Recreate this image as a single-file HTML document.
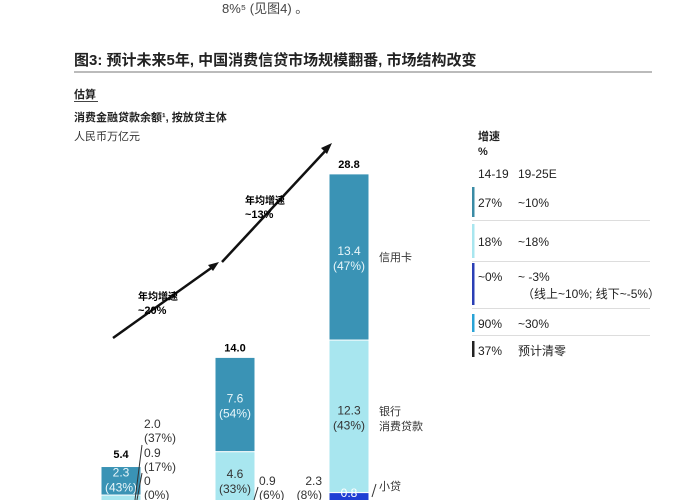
<!DOCTYPE html>
<html><head><meta charset="utf-8"><style>
body{margin:0;background:#fff;width:700px;height:500px;overflow:hidden;font-family:"Liberation Sans","Noto Sans CJK SC",sans-serif}
svg{display:block}
</style></head><body>
<svg id="chart" width="700" height="500">
<text x="222" y="13" font-size="13" fill="#444">8%⁵ (见图4) 。</text>
<text x="74" y="65" font-size="15" font-weight="bold" fill="#222">图3: 预计未来5年, 中国消费信贷市场规模翻番, 市场结构改变</text>
<rect x="74" y="71" width="578" height="2" fill="#bbb"/>
<text x="74" y="98" font-size="11" font-weight="bold" fill="#222">估算</text>
<rect x="74" y="101" width="24" height="1" fill="#444"/>
<text x="74" y="121" font-size="11" font-weight="bold" fill="#222">消费金融贷款余额¹, 按放贷主体</text>
<text x="74" y="140" font-size="11" fill="#333">人民币万亿元</text>
<g id="bars"></g>
<g id="arrows">
<line x1="113" y1="338" x2="214" y2="266" stroke="#111" stroke-width="2.5"/>
<polygon points="219,262 208,265 213,271" fill="#111"/>
<line x1="222" y1="262" x2="328" y2="148" stroke="#111" stroke-width="2.5"/>
<polygon points="332,143 321,148 327,154" fill="#111"/>
<text x="138" y="300" font-size="10" font-weight="bold">年均增速</text>
<text x="138" y="314" font-size="11" font-weight="bold">~20%</text>
<text x="245" y="204" font-size="10" font-weight="bold">年均增速</text>
<text x="245" y="218" font-size="11" font-weight="bold">~13%</text>
</g>
<g font-size="11" fill="#333">
<text x="379" y="261">信用卡</text>
<text x="379" y="415">银行</text>
<text x="379" y="430">消费贷款</text>
<text x="379" y="490">小贷</text>
<line x1="372" y1="497" x2="376" y2="484" stroke="#333"/>
<text x="144" y="428" font-size="12">2.0</text>
<text x="144" y="442" font-size="12">(37%)</text>
<text x="144" y="457" font-size="12">0.9</text>
<text x="144" y="471" font-size="12">(17%)</text>
<text x="144" y="485" font-size="12">0</text>
<text x="144" y="499" font-size="12">(0%)</text>
<line x1="142" y1="445" x2="135" y2="500" stroke="#333"/>
<line x1="142" y1="473" x2="137" y2="500" stroke="#333"/>
<text x="259" y="485" font-size="12">0.9</text>
<text x="259" y="499" font-size="12">(6%)</text>
<line x1="258" y1="487" x2="254" y2="500" stroke="#333"/>
<text x="322" y="485" font-size="12" text-anchor="end">2.3</text>
<text x="322" y="499" font-size="12" text-anchor="end">(8%)</text>
</g>
<g id="legend" font-size="12" fill="#222">
<text x="478" y="140" font-size="11" font-weight="bold">增速</text>
<text x="478" y="155" font-size="11" font-weight="bold">%</text>
<text x="478" y="178">14-19</text>
<text x="518" y="178">19-25E</text>
</g>
</svg>
<script>
const categories=["2014","2019","2025E"];
const creditCard=[2.3,7.6,13.4];
const bankLoan=[2.0,4.6,12.3];
const microLoan=[0,0.9,0.8];
const other=[0.9,0.9,2.3];
const totals=[5.4,14.0,28.8];
const creditPct=["43%","54%","47%"];
const bankPct=["37%","33%","43%"];
const ns="http://www.w3.org/2000/svg";
const base=531, k=12.4, x0=101, step=114, bw=40;
const y=v=>base-v*k;
const xb=i=>x0+i*step;
const g=document.getElementById('bars');
function mk(t,a,txt){const e=document.createElementNS(ns,t);for(const p in a)e.setAttribute(p,a[p]);if(txt!==undefined)e.textContent=txt;g.appendChild(e);return e;}
categories.forEach((c,i)=>{
 let acc=0;
 const segs=[[other[i],"#a8e3ee","other"],[microLoan[i],"#1f3fd4","microloan"],[bankLoan[i],"#a8e6ef","bank"],[creditCard[i],"#3a93b5","credit"]];
 segs.forEach(s=>{
  const r=mk('rect',{x:xb(i),y:y(acc+s[0]),width:bw,height:s[0]*k,fill:s[1],stroke:"#fff","stroke-width":1});
  
  
  acc+=s[0];
 });
 const top=y(totals[i]);
 const t=mk('text',{x:xb(i)+bw/2,y:top-6,"text-anchor":"middle","font-size":11,"font-weight":"bold"},totals[i].toFixed(1));
 
 
 const cTop=y(totals[i]), cBot=y(totals[i]-creditCard[i]);
 const cm=(cTop+cBot)/2;
 const l1=mk('text',{x:xb(i)+bw/2,y:cm-2,"text-anchor":"middle","font-size":12,fill:"#e8f6fa"},creditCard[i].toFixed(1));
 
 
 const l2=mk('text',{x:xb(i)+bw/2,y:cm+13,"text-anchor":"middle","font-size":12,fill:"#e8f6fa"},"("+creditPct[i]+")");
 
 
 if(i>0){
  const bm=(cBot+y(totals[i]-creditCard[i]-bankLoan[i]))/2;
  const b1=mk('text',{x:xb(i)+bw/2,y:bm-2,"text-anchor":"middle","font-size":12,fill:"#333"},bankLoan[i].toFixed(1));
  
  
  const b2=mk('text',{x:xb(i)+bw/2,y:bm+13,"text-anchor":"middle","font-size":12,fill:"#333"},"("+bankPct[i]+")");
  
  
 }
});
const m=mk('text',{x:xb(2)+bw/2,y:497,"text-anchor":"middle","font-size":12,fill:"#fff"},microLoan[2].toFixed(1));


const legRates1=["27%","18%","~0%","90%","37%"];
const legRates2=["~10%","~18%","~ -3%","~30%","预计清零"];
const legColors=["#3a8ba5","#a8e6ef","#2a3fb5","#29a3d6","#222"];
const lg=document.getElementById('legend');
const rows=[[187,217,203],[224,258,242],[263,305,277],[314,332,324],[341,357,351]];
legRates1.forEach((r,i)=>{
 const [t,b,ty]=rows[i];
 const bar=document.createElementNS(ns,'rect');
 bar.setAttribute('x',472);bar.setAttribute('y',t);bar.setAttribute('width',2.5);bar.setAttribute('height',b-t);bar.setAttribute('fill',legColors[i]);
 
 
 lg.appendChild(bar);
 const a=document.createElementNS(ns,'text');a.setAttribute('x',478);a.setAttribute('y',ty+4);a.textContent=r;
 
 
 lg.appendChild(a);
 const c=document.createElementNS(ns,'text');c.setAttribute('x',518);c.setAttribute('y',ty+4);c.textContent=legRates2[i];
 
 
 lg.appendChild(c);
 if(i<4){const ln=document.createElementNS(ns,'rect');ln.setAttribute('x',472);ln.setAttribute('y',b+3);ln.setAttribute('width',178);ln.setAttribute('height',1);ln.setAttribute('fill',"#ddd");
 
 
 lg.appendChild(ln);}
});
const note=document.createElementNS(ns,'text');note.setAttribute('x',522);note.setAttribute('y',298);note.textContent="（线上~10%; 线下~-5%）";


lg.appendChild(note);
</script>
</body></html>
